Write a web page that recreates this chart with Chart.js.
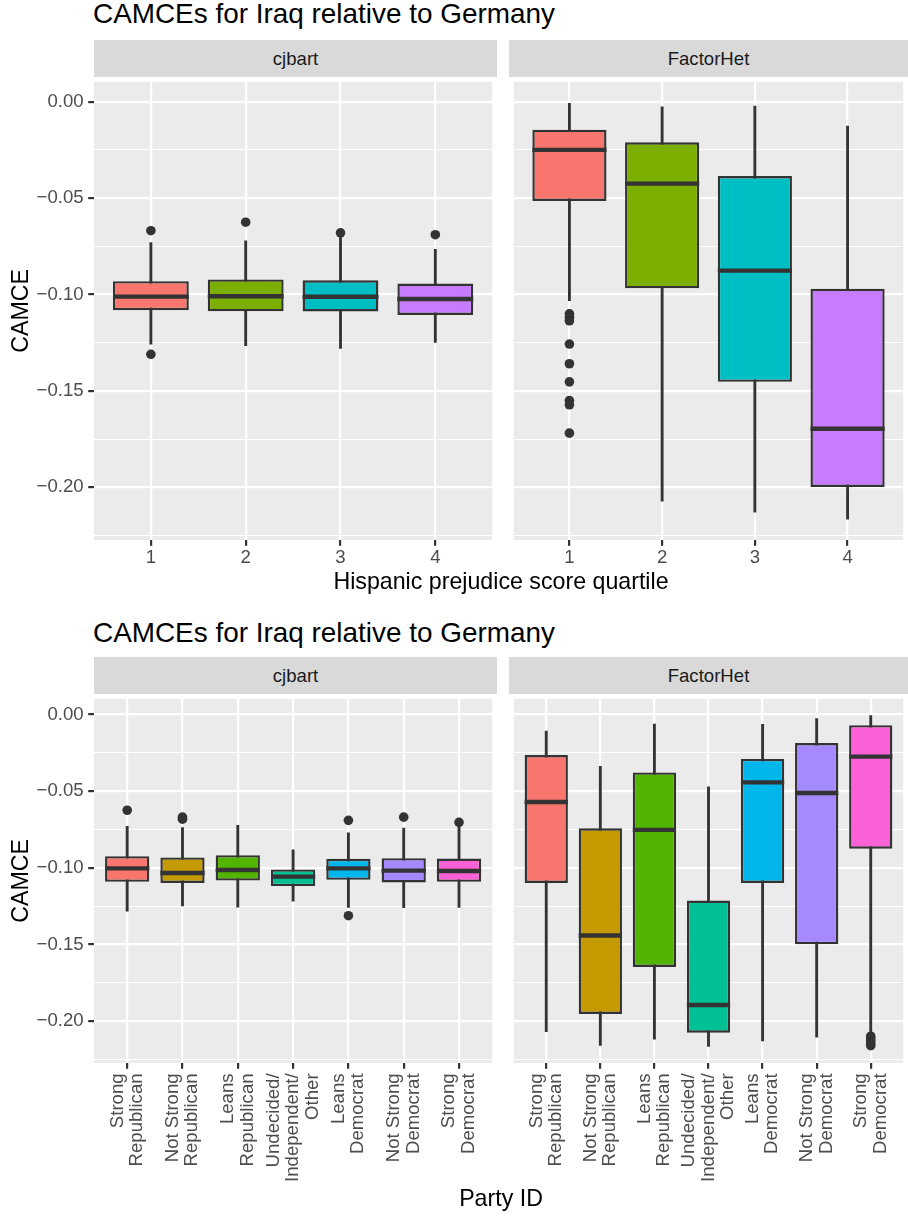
<!DOCTYPE html>
<html>
<head>
<meta charset="utf-8">
<title>CAMCEs for Iraq relative to Germany</title>
<script src="https://cdn.jsdelivr.net/npm/chart.js@4"></script>
<style>
  html, body { margin: 0; padding: 0; background: #fff; }
  body { position: relative; width: 908px; height: 1216px; overflow: hidden; font-family: 'Liberation Sans', Arial, sans-serif; }
  .abs { position: absolute; }
  .title { left: 93px; font-size: 27.9px; line-height: 27.9px; color: #000; white-space: nowrap; }
  .strip { background: #D9D9D9; color: #1A1A1A; font-size: 18.6px; display: flex; align-items: center; justify-content: center; }
  .xtitle { left: 94px; width: 814px; text-align: center; font-size: 23.2px; line-height: 23.2px; color: #000; }
</style>
</head>
<body>

<div class="abs title" style="top:0">CAMCEs for Iraq relative to Germany</div>
<div class="abs strip" style="left:94px;top:40px;width:403px;height:37px">cjbart</div>
<div class="abs strip" style="left:509px;top:40px;width:399px;height:37px">FactorHet</div>
<div class="abs" style="left:0;top:77px"><canvas id="topL" width="497" height="503"></canvas></div>
<div class="abs" style="left:509px;top:77px"><canvas id="topR" width="399" height="503"></canvas></div>
<div class="abs xtitle" style="top:570px">Hispanic prejudice score quartile</div>

<div class="abs title" style="top:619px">CAMCEs for Iraq relative to Germany</div>
<div class="abs strip" style="left:94px;top:657px;width:403px;height:37px">cjbart</div>
<div class="abs strip" style="left:509px;top:657px;width:399px;height:37px">FactorHet</div>
<div class="abs" style="left:0;top:694px"><canvas id="botL" width="497" height="499"></canvas></div>
<div class="abs" style="left:509px;top:694px"><canvas id="botR" width="399" height="499"></canvas></div>
<div class="abs xtitle" style="top:1187px">Party ID</div>

<script>
/* ===== DATA ===== */
const quartiles = ['1', '2', '3', '4'];
const partyIds = [
  ['Strong', 'Republican'], ['Not Strong', 'Republican'], ['Leans', 'Republican'],
  ['Undecided/', 'Independent/', 'Other'],
  ['Leans', 'Democrat'], ['Not Strong', 'Democrat'], ['Strong', 'Democrat']
];
const hue4 = ['#F8766D', '#7CAE00', '#00BFC4', '#C77CFF'];
const hue7 = ['#F8766D', '#C49A00', '#53B400', '#00C094', '#00B6EB', '#A58AFF', '#FB61D7'];

const yMajor = [-0.2, -0.15, -0.1, -0.05, 0];
const yMinor = [-0.225, -0.175, -0.125, -0.075, -0.025];
const yTickLabels = ['\u22120.20', '\u22120.15', '\u22120.10', '\u22120.05', '0.00'];
const yMin = -0.2273, yMax = 0.0103;

// Hispanic prejudice quartile, cjbart
const hqCjLow  = [-0.1258, -0.1265, -0.1280, -0.1248];
const hqCjQ1   = [-0.1081, -0.1087, -0.1088, -0.1106];
const hqCjMed  = [-0.1011, -0.1009, -0.1012, -0.1023];
const hqCjQ3   = [-0.0931, -0.0922, -0.0926, -0.0943];
const hqCjHigh = [-0.0731, -0.0722, -0.0704, -0.0766];
const hqCjOut  = [[1, -0.0669], [1, -0.1310], [2, -0.0625], [3, -0.0680], [4, -0.0690]];

// Hispanic prejudice quartile, FactorHet
const hqFhLow  = [-0.1032, -0.2071, -0.2129, -0.2165];
const hqFhQ1   = [-0.0515, -0.0968, -0.1453, -0.1998];
const hqFhMed  = [-0.0250, -0.0425, -0.0876, -0.1696];
const hqFhQ3   = [-0.0145, -0.0211, -0.0386, -0.0970];
const hqFhHigh = [-0.0009, -0.0027, -0.0023, -0.0126];
const hqFhOut  = [[1, -0.1100], [1, -0.1118], [1, -0.1136], [1, -0.1257], [1, -0.1359],
                  [1, -0.1453], [1, -0.1550], [1, -0.1572], [1, -0.1719]];

// Party ID, cjbart
const pidCjLow  = [-0.1282, -0.1248, -0.1256, -0.1218, -0.1258, -0.1260, -0.1258];
const pidCjQ1   = [-0.1091, -0.1098, -0.1083, -0.1119, -0.1078, -0.1095, -0.1091];
const pidCjMed  = [-0.1003, -0.1033, -0.1014, -0.1057, -0.1003, -0.1018, -0.1020];
const pidCjQ3   = [-0.0924, -0.0932, -0.0917, -0.1010, -0.0941, -0.0937, -0.0939];
const pidCjHigh = [-0.0729, -0.0737, -0.0722, -0.0883, -0.0772, -0.0740, -0.0716];
const pidCjOut  = [[1, -0.0624], [2, -0.0669], [2, -0.0682], [5, -0.0690], [5, -0.1312],
                   [6, -0.0669], [7, -0.0703]];

// Party ID, FactorHet
const pidFhLow  = [-0.2069, -0.2159, -0.2118, -0.2165, -0.2129, -0.2105, -0.2080];
const pidFhQ1   = [-0.1098, -0.1953, -0.1646, -0.2075, -0.1098, -0.1498, -0.0875];
const pidFhMed  = [-0.0570, -0.1441, -0.0752, -0.1895, -0.0442, -0.0512, -0.0274];
const pidFhQ3   = [-0.0264, -0.0742, -0.0377, -0.1213, -0.0289, -0.0186, -0.0069];
const pidFhHigh = [-0.0107, -0.0337, -0.0062, -0.0472, -0.0064, -0.0026, -0.0006];
const pidFhOut  = [[7, -0.2098], [7, -0.2114], [7, -0.2130], [7, -0.2146], [7, -0.2160]];

/* ===== STYLE ===== */
const INK = '#333333';
Chart.defaults.font.family = "'Liberation Sans', Arial, sans-serif";

// fond gris du panneau
const panelBg = {
  id: 'panelBg',
  beforeDraw(chart) {
    const { ctx, chartArea: a } = chart;
    ctx.save();
    ctx.fillStyle = '#EBEBEB';
    ctx.fillRect(a.left, a.top, a.right - a.left, a.bottom - a.top);
    ctx.restore();
  }
};

// trait de la médiane sur chaque boîte
const medianLines = {
  id: 'medianLines',
  afterDatasetsDraw(chart) {
    const { ctx } = chart;
    const y = chart.scales.y;
    chart.data.datasets.forEach((ds, di) => {
      if (!ds.medians) return;
      chart.getDatasetMeta(di).data.forEach((bar, i) => {
        const py = y.getPixelForValue(ds.medians[i]);
        ctx.save();
        ctx.strokeStyle = INK;
        ctx.lineWidth = 4.4;
        ctx.beginPath();
        ctx.moveTo(bar.x - bar.width / 2, py);
        ctx.lineTo(bar.x + bar.width / 2, py);
        ctx.stroke();
        ctx.restore();
      });
    });
  }
};

// étiquettes multi-lignes centrées sur le tick (lignes intercalées de blancs)
function spreadLines(lines) {
  if (!Array.isArray(lines)) return lines;
  const out = [];
  for (let j = 0; j < 2 - (lines.length - 1); j++) out.push('');
  lines.forEach((l, j) => { if (j) out.push(''); out.push(l); });
  return out;
}

const isMajor = v => yMajor.indexOf(v) >= 0;

function makePanel(id, labels, colors, lo, q1, med, q3, hi, out, o) {
  const el = document.getElementById(id);
  if (!el) return;
  const xs = labels.map((_, i) => i + 1);
  const n = labels.length;
  const rotated = o.rot !== 0;
  new Chart(el, {
    type: 'bar',
    data: {
      datasets: [
        {
          type: 'line', order: 0, showLine: false,
          data: out.map(p => ({ x: p[0], y: p[1] })),
          pointRadius: 4.8, pointHoverRadius: 4.8, pointBorderWidth: 0,
          pointBackgroundColor: INK
        },
        {
          order: 1, grouped: false,
          data: xs.map((x, i) => ({ x, y: [q1[i], q3[i]] })),
          medians: med,
          backgroundColor: colors, borderColor: INK, borderWidth: 2.4, borderSkipped: false,
          barPercentage: 0.8, categoryPercentage: 1
        },
        {
          order: 2, grouped: false,
          data: xs.map((x, i) => ({ x, y: [lo[i], hi[i]] })),
          backgroundColor: INK, borderWidth: 0, barThickness: 2.2
        }
      ]
    },
    options: {
      responsive: false, animation: false, devicePixelRatio: 1, events: [],
      layout: { padding: 0 },
      plugins: { legend: { display: false }, tooltip: { enabled: false }, title: { display: false } },
      scales: {
        x: {
          type: 'linear', min: 0.4, max: n + 0.6, offset: false, bounds: 'data',
          grid: { offset: false, color: '#FFFFFF', lineWidth: 2.2, tickLength: 5.8, tickColor: INK, tickWidth: 2.2 },
          border: { display: false },
          afterBuildTicks: s => { s.ticks = xs.map(v => ({ value: v })); },
          afterFit: s => { s.height = o.xAxisH; s.paddingLeft = 0; s.paddingRight = 0; },
          ticks: {
            autoSkip: false, maxRotation: o.rot, minRotation: o.rot,
            padding: rotated ? 4.6 : 1,
            color: '#4D4D4D',
            font: rotated ? { size: 18.6, lineHeight: '9.75px' } : { size: 18.6 },
            labelOffset: rotated ? -19.5 : 0,
            callback: (v, i) => rotated ? spreadLines(labels[i]) : labels[i]
          }
        },
        y: {
          type: 'linear', min: yMin, max: yMax, bounds: 'data', beginAtZero: false,
          grid: {
            color: '#FFFFFF',
            lineWidth: c => (c.tick && isMajor(c.tick.value)) ? 2.2 : 1.1,
            drawTicks: o.showY, tickLength: 5.8, tickWidth: 2.2,
            tickColor: c => (c.tick && isMajor(c.tick.value)) ? INK : 'rgba(0,0,0,0)'
          },
          border: { display: false },
          afterBuildTicks: s => {
            s.ticks = yMinor.concat(yMajor).sort((a, b) => a - b).map(v => ({ value: v }));
          },
          afterFit: s => { s.width = o.showY ? 94 : 0; s.paddingTop = 0; s.paddingBottom = 0; },
          ticks: {
            display: o.showY, padding: 4.6, color: '#4D4D4D', font: { size: 18.6 },
            callback: v => { const k = yMajor.indexOf(v); return k < 0 ? '' : yTickLabels[k]; }
          },
          title: {
            display: o.showY, text: 'CAMCE', color: '#000000',
            font: { size: 23.2 }, padding: { top: 8, bottom: 0 }
          }
        }
      }
    },
    plugins: [panelBg, medianLines]
  });
}

/* ===== PANNEAUX ===== */
makePanel('topL', quartiles, hue4, hqCjLow, hqCjQ1, hqCjMed, hqCjQ3, hqCjHigh, hqCjOut,
  { rot: 0, xAxisH: 40, showY: true });
makePanel('topR', quartiles, hue4, hqFhLow, hqFhQ1, hqFhMed, hqFhQ3, hqFhHigh, hqFhOut,
  { rot: 0, xAxisH: 40, showY: false });
makePanel('botL', partyIds, hue7, pidCjLow, pidCjQ1, pidCjMed, pidCjQ3, pidCjHigh, pidCjOut,
  { rot: 90, xAxisH: 130, showY: true });
makePanel('botR', partyIds, hue7, pidFhLow, pidFhQ1, pidFhMed, pidFhQ3, pidFhHigh, pidFhOut,
  { rot: 90, xAxisH: 130, showY: false });
</script>
</body>
</html>
